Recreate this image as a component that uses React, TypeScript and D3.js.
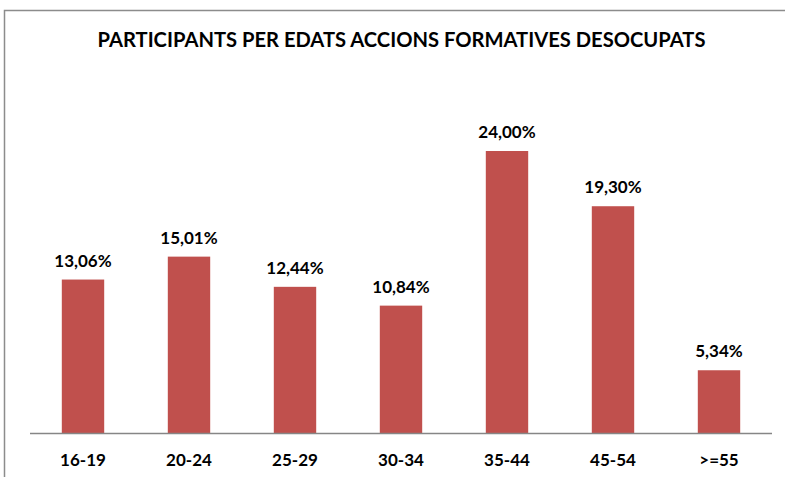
import React from 'react';
import * as d3 from 'd3';

const ageGroups = ['16-19', '20-24', '25-29', '30-34', '35-44', '45-54', '>=55'];
const shares = [13.06, 15.01, 12.44, 10.84, 24.0, 19.3, 5.34];
const chartTitle = 'PARTICIPANTS PER EDATS ACCIONS FORMATIVES DESOCUPATS';

const W = 785;
const H = 477;
const font = "Lato, 'Open Sans', sans-serif";

const App = () => {
  const x = d3.scaleBand()
    .domain(ageGroups)
    .range([30, 772])
    .paddingInner(0.6)
    .paddingOuter(0.3);

  const y = d3.scaleLinear()
    .domain([0, 30])
    .range([433, 80.5]);

  const fmt = (v: number) => v.toFixed(2).replace('.', ',') + '%';

  return (
    <svg width={W} height={H} style={{ position: 'absolute', left: 0, top: 0 }}>
      <rect x={0} y={0} width={W} height={H} fill="#fff" />
      {/* chart frame, clipped at right and bottom */}
      <path d={`M4.5,${H} V10.5 H${W}`} fill="none" stroke="#8c8c8c" strokeWidth={1.5} />
      <text
        x={401.5}
        y={47}
        textAnchor="middle"
        fontFamily={font}
        fontWeight="bold"
        fontSize={20}
        textLength={608}
        lengthAdjust="spacingAndGlyphs"
        fill="#000"
      >
        {chartTitle}
      </text>
      {ageGroups.map((g, i) => (
        <g key={g}>
          <rect
            x={x(g)}
            y={y(shares[i])}
            width={x.bandwidth()}
            height={y(0) - y(shares[i])}
            fill="#C0504D"
          />
          <text
            x={(x(g) as number) + x.bandwidth() / 2}
            y={y(shares[i]) - 13}
            textAnchor="middle"
            fontFamily={font}
            fontWeight="bold"
            fontSize={17}
            fill="#000"
          >
            {fmt(shares[i])}
          </text>
          <text
            x={(x(g) as number) + x.bandwidth() / 2}
            y={466}
            textAnchor="middle"
            fontFamily={font}
            fontWeight="bold"
            fontSize={17}
            fill="#000"
          >
            {g}
          </text>
        </g>
      ))}
      <line x1={30} x2={772} y1={433.5} y2={433.5} stroke="#868686" strokeWidth={1.5} />
    </svg>
  );
};

export default App;
